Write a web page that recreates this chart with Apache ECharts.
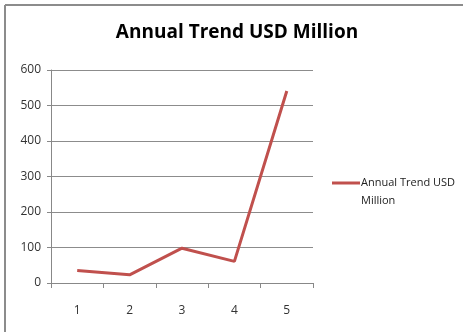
<!DOCTYPE html>
<html><head><meta charset="utf-8">
<script src="https://cdn.jsdelivr.net/npm/echarts@6/dist/echarts.min.js"></script>
<style>html,body{margin:0;padding:0;background:#fff}#c{width:463px;height:332px}</style>
</head><body><div id="c"></div>
<script>
const categories = ['1','2','3','4','5'];
const seriesName = 'Annual Trend USD Million';
const values = [35, 23, 98, 61, 541];
const yTicks = {min: 0, max: 600, interval: 100};

const chart = echarts.init(document.getElementById('c'), null, {renderer: 'canvas'});
chart.setOption({
  animation: false,
  backgroundColor: '#fff',
  title: {
    text: 'Annual Trend USD Million',
    left: 237, top: 23, textAlign: 'center', padding: 0,
    textStyle: {fontFamily: 'Open Sans', fontWeight: 'bold', fontSize: 19, color: '#000'}
  },
  graphic: [
    {type: 'line', shape: {x1: 5, y1: 5, x2: 463, y2: 5}, style: {stroke: '#8c8c8c', lineWidth: 2}},
    {type: 'line', shape: {x1: 5, y1: 5, x2: 5, y2: 332}, style: {stroke: '#8c8c8c', lineWidth: 2}}
  ],
  legend: {
    data: [seriesName],
    orient: 'vertical',
    left: 332, top: 156, padding: 0,
    itemWidth: 28, itemHeight: 3, itemGap: 4,
    icon: 'rect',
    formatter: () => '\u00a0\nAnnual Trend USD\nMillion',
    textStyle: {fontFamily: 'Open Sans', fontSize: 11, color: '#222', lineHeight: 18, padding: [0,0,0,-4]}
  },
  grid: {left: 51, right: 150, top: 70, bottom: 49},
  xAxis: {
    type: 'category', data: categories, boundaryGap: true,
    axisLine: {lineStyle: {color: '#888'}},
    axisTick: {show: true, length: 5, alignWithLabel: false, lineStyle: {color: '#888'}},
    axisLabel: {fontFamily: 'Open Sans', fontSize: 12, color: '#333', margin: 22}
  },
  yAxis: {
    type: 'value', min: yTicks.min, max: yTicks.max, interval: yTicks.interval,
    axisLine: {show: true, lineStyle: {color: '#888'}},
    axisTick: {show: true, length: 4, lineStyle: {color: '#888'}},
    splitLine: {lineStyle: {color: '#8c8c8c'}},
    axisLabel: {fontFamily: 'Open Sans', fontSize: 12, color: '#333', margin: 10}
  },
  series: [{
    name: seriesName, type: 'line', data: values,
    showSymbol: false, symbol: 'none',
    lineStyle: {color: '#C0504D', width: 3},
    itemStyle: {color: '#C0504D'}
  }]
});
</script></body></html>
